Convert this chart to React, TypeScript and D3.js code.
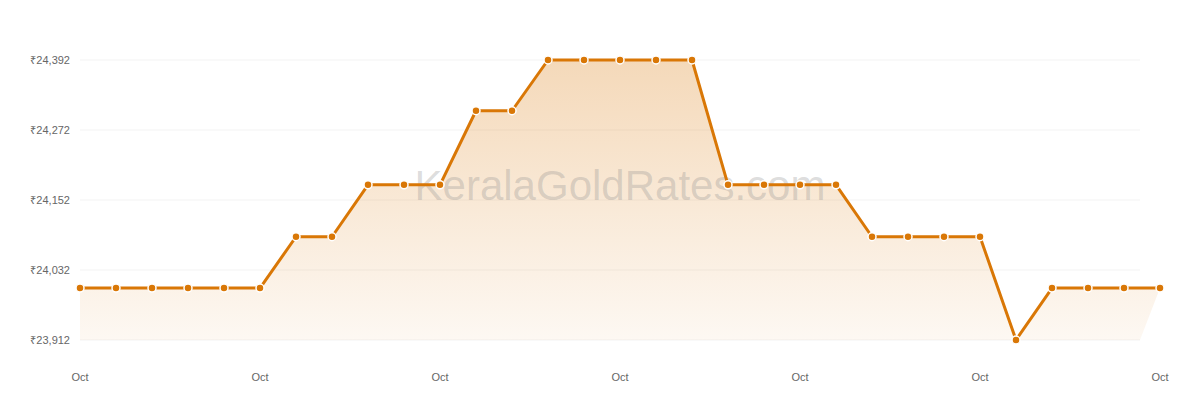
import React, { useEffect, useRef } from 'react';
import * as d3 from 'd3';

// daily 22K rate per 8g (₹)
const prices = [
  24001, 24001, 24001, 24001, 24001, 24001,
  24089, 24089,
  24178, 24178, 24178,
  24305, 24305,
  24392, 24392, 24392, 24392, 24392,
  24178, 24178, 24178, 24178,
  24089, 24089, 24089, 24089,
  23912,
  24001, 24001, 24001, 24001,
];
const yTicks = [23912, 24032, 24152, 24272, 24392];
const xTickIdx = [0, 5, 10, 15, 20, 25, 30];
const xTickLabels = ['Oct', 'Oct', 'Oct', 'Oct', 'Oct', 'Oct', 'Oct'];

const W = 1200;
const H = 400;
const COLOR = '#d97706';

export default function App() {
  const svgRef = useRef<SVGSVGElement>(null);

  useEffect(() => {
    if (!svgRef.current) return;
    const svg = d3.select(svgRef.current);
    svg.selectAll('*').remove();

    const x = d3.scaleLinear().domain([0, prices.length - 1]).range([80, 1160]);
    const xBase = d3.scaleLinear().domain([0, prices.length - 1]).range([80, 1140]);
    const y = d3.scaleLinear().domain([23912, 24392]).range([340, 60]);

    const defs = svg.append('defs');
    const grad = defs.append('linearGradient')
      .attr('id', 'goldFill')
      .attr('x1', 0).attr('y1', 0).attr('x2', 0).attr('y2', 1);
    grad.append('stop').attr('offset', '0%').attr('stop-color', COLOR).attr('stop-opacity', 0.28);
    grad.append('stop').attr('offset', '100%').attr('stop-color', COLOR).attr('stop-opacity', 0.05);

    // grid
    svg.append('g')
      .selectAll('line')
      .data(yTicks)
      .join('line')
      .attr('x1', 80)
      .attr('x2', 1140)
      .attr('y1', d => y(d))
      .attr('y2', d => y(d))
      .attr('stroke', '#f3f3f3')
      .attr('stroke-width', 1);

    // y labels
    svg.append('g')
      .selectAll('text')
      .data(yTicks)
      .join('text')
      .attr('x', 70)
      .attr('y', d => y(d))
      .attr('dy', '0.35em')
      .attr('text-anchor', 'end')
      .style('font-family', 'Liberation Sans, Arial, sans-serif')
      .style('font-size', '11px')
      .style('fill', '#666')
      .text(d => '₹' + d3.format(',')(d));

    // x labels
    svg.append('g')
      .selectAll('text')
      .data(xTickIdx)
      .join('text')
      .attr('x', d => x(d))
      .attr('y', 381)
      .attr('text-anchor', 'middle')
      .style('font-family', 'Liberation Sans, Arial, sans-serif')
      .style('font-size', '11px')
      .style('fill', '#666')
      .text((d, i) => xTickLabels[i]);

    // area
    const area = d3.area<number>()
      .x1((d, i) => x(i))
      .x0((d, i) => xBase(i))
      .y1(d => y(d))
      .y0(y(23912));
    svg.append('path')
      .datum(prices)
      .attr('d', area)
      .attr('fill', 'url(#goldFill)');

    // watermark
    svg.append('text')
      .attr('x', 620)
      .attr('y', 200)
      .attr('text-anchor', 'middle')
      .style('font-family', 'Liberation Sans, Arial, sans-serif')
      .style('font-size', '42px')
      .style('fill', 'rgba(140,140,140,0.3)')
      .text('KeralaGoldRates.com');

    // line
    const line = d3.line<number>()
      .x((d, i) => x(i))
      .y(d => y(d));
    svg.append('path')
      .datum(prices)
      .attr('d', line)
      .attr('fill', 'none')
      .attr('stroke', COLOR)
      .attr('stroke-width', 3)
      .attr('stroke-linejoin', 'round');

    svg.append('g')
      .selectAll('circle')
      .data(prices)
      .join('circle')
      .attr('cx', (d, i) => x(i))
      .attr('cy', d => y(d))
      .attr('r', 4)
      .attr('fill', COLOR)
      .attr('stroke', '#fff')
      .attr('stroke-width', 1.5);
  }, []);

  return (
    <div style={{ position: 'absolute', left: 0, top: 0, width: W, height: H, background: '#fff' }}>
      <svg ref={svgRef} width={W} height={H} />
    </div>
  );
}
